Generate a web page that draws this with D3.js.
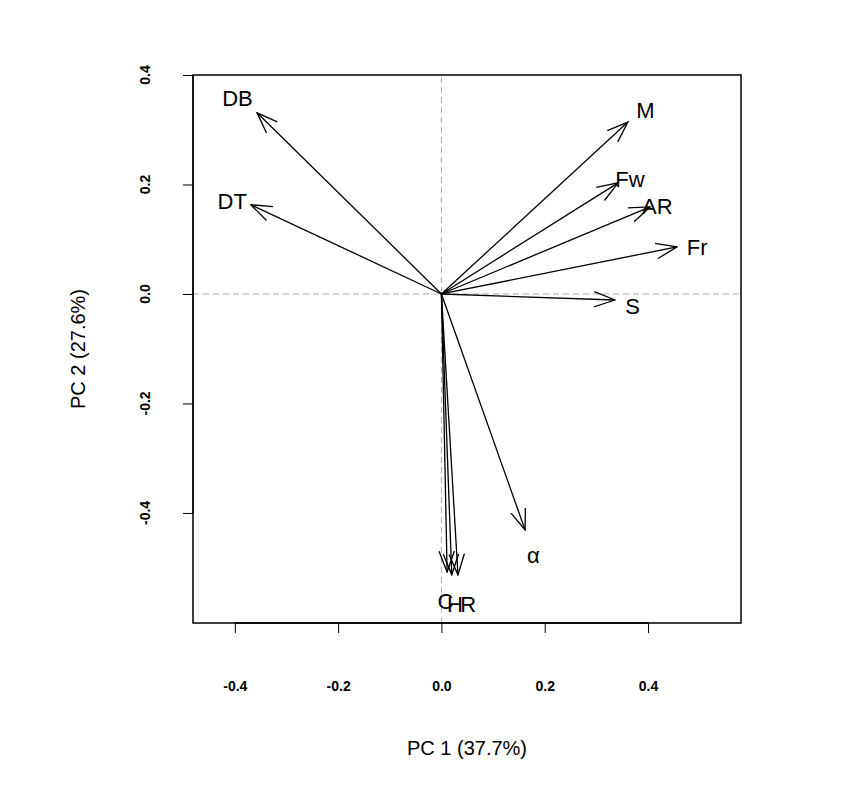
<!DOCTYPE html>
<html><head><meta charset="utf-8">
<script src="https://cdn.jsdelivr.net/npm/d3@7"></script>
<style>body{margin:0;background:#fff;font-family:"Liberation Sans",Arial,sans-serif}</style>
</head><body>
<svg id="chart" width="857" height="800"></svg>
<script>
var names = ["DB","DT","M","Fw","AR","Fr","S","α","C","H","R"];
var pc1 = [-0.357,-0.369,0.361,0.342,0.404,0.456,0.336,0.162,0.011,0.020,0.032];
var pc2 = [0.331,0.163,0.314,0.203,0.159,0.086,-0.011,-0.431,-0.508,-0.513,-0.513];
var labX = [-0.395,-0.405,0.395,0.365,0.418,0.495,0.370,0.178,0.008,0.026,0.052];
var labY = [0.358,0.170,0.335,0.210,0.160,0.085,-0.023,-0.478,-0.562,-0.567,-0.567];
var ticks = [-0.4,-0.2,0.0,0.2,0.4];
var fmt = d => d3.format(".1f")(d).replace("−","-");

var svg = d3.select("#chart");
var x = d3.scaleLinear().domain([-0.481,0.580]).range([193,741]);
var y = d3.scaleLinear().domain([-0.601,0.4]).range([623,75]);

svg.append("defs").append("marker").attr("id","ah")
  .attr("viewBox","0 0 20 20").attr("refX",19).attr("refY",10)
  .attr("markerWidth",22).attr("markerHeight",22).attr("markerUnits","userSpaceOnUse")
  .attr("orient","auto")
  .append("path").attr("d","M0,3 L19,10 L0,17").attr("fill","none").attr("stroke","#000").attr("stroke-width",1.2);

// dashed zero lines
svg.append("line").attr("x1",x(0)).attr("x2",x(0)).attr("y1",y.range()[0]).attr("y2",y.range()[1])
  .attr("stroke","#aaa").attr("stroke-dasharray","6,4");
svg.append("line").attr("y1",y(0)).attr("y2",y(0)).attr("x1",x.range()[0]).attr("x2",x.range()[1])
  .attr("stroke","#aaa").attr("stroke-dasharray","6,4");

// arrows
svg.selectAll("line.arr").data(names).enter().append("line").attr("class","arr")
  .attr("x1",x(0)).attr("y1",y(0))
  .attr("x2",(d,i)=>x(pc1[i])).attr("y2",(d,i)=>y(pc2[i]))
  .attr("stroke","#000").attr("stroke-width",1.3).attr("marker-end","url(#ah)");
svg.selectAll("text.lab").data(names).enter().append("text").attr("class","lab")
  .attr("x",(d,i)=>x(labX[i])).attr("y",(d,i)=>y(labY[i])).attr("dy","0.35em")
  .attr("text-anchor","middle").attr("font-size",22).text(d=>d);

// box
svg.append("rect").attr("x",193).attr("y",75).attr("width",548).attr("height",548)
  .attr("fill","none").attr("stroke","#000").attr("stroke-width",1.5);

// x axis
var xa = svg.append("g").attr("transform","translate(0,623)")
  .call(d3.axisBottom(x).tickValues(ticks).tickFormat(fmt).tickSize(10).tickPadding(48));
xa.select(".domain").attr("d","M"+x(-0.4)+",0H"+x(0.4)).attr("stroke-width",1.3);
xa.selectAll("text").attr("font-size",14).attr("font-weight","bold").attr("font-family","Liberation Sans,Arial");

// y axis
var ya = svg.append("g").attr("transform","translate(193,0)")
  .call(d3.axisLeft(y).tickValues(ticks).tickFormat("").tickSize(10));
ya.select(".domain").attr("d","M0,"+y(0.4)+"V"+y(-0.4)).attr("stroke-width",1.3);
svg.selectAll("text.yt").data(ticks).enter().append("text").attr("class","yt")
  .attr("transform",d=>"translate(150,"+y(d)+") rotate(-90)")
  .attr("text-anchor","middle").attr("font-size",14).attr("font-weight","bold").text(fmt);

svg.append("text").attr("x",467).attr("y",755).attr("text-anchor","middle").attr("font-size",20).text("PC 1 (37.7%)");
svg.append("text").attr("transform","translate(85,349) rotate(-90)").attr("text-anchor","middle").attr("font-size",20).text("PC 2 (27.6%)");
</script>
</body></html>
